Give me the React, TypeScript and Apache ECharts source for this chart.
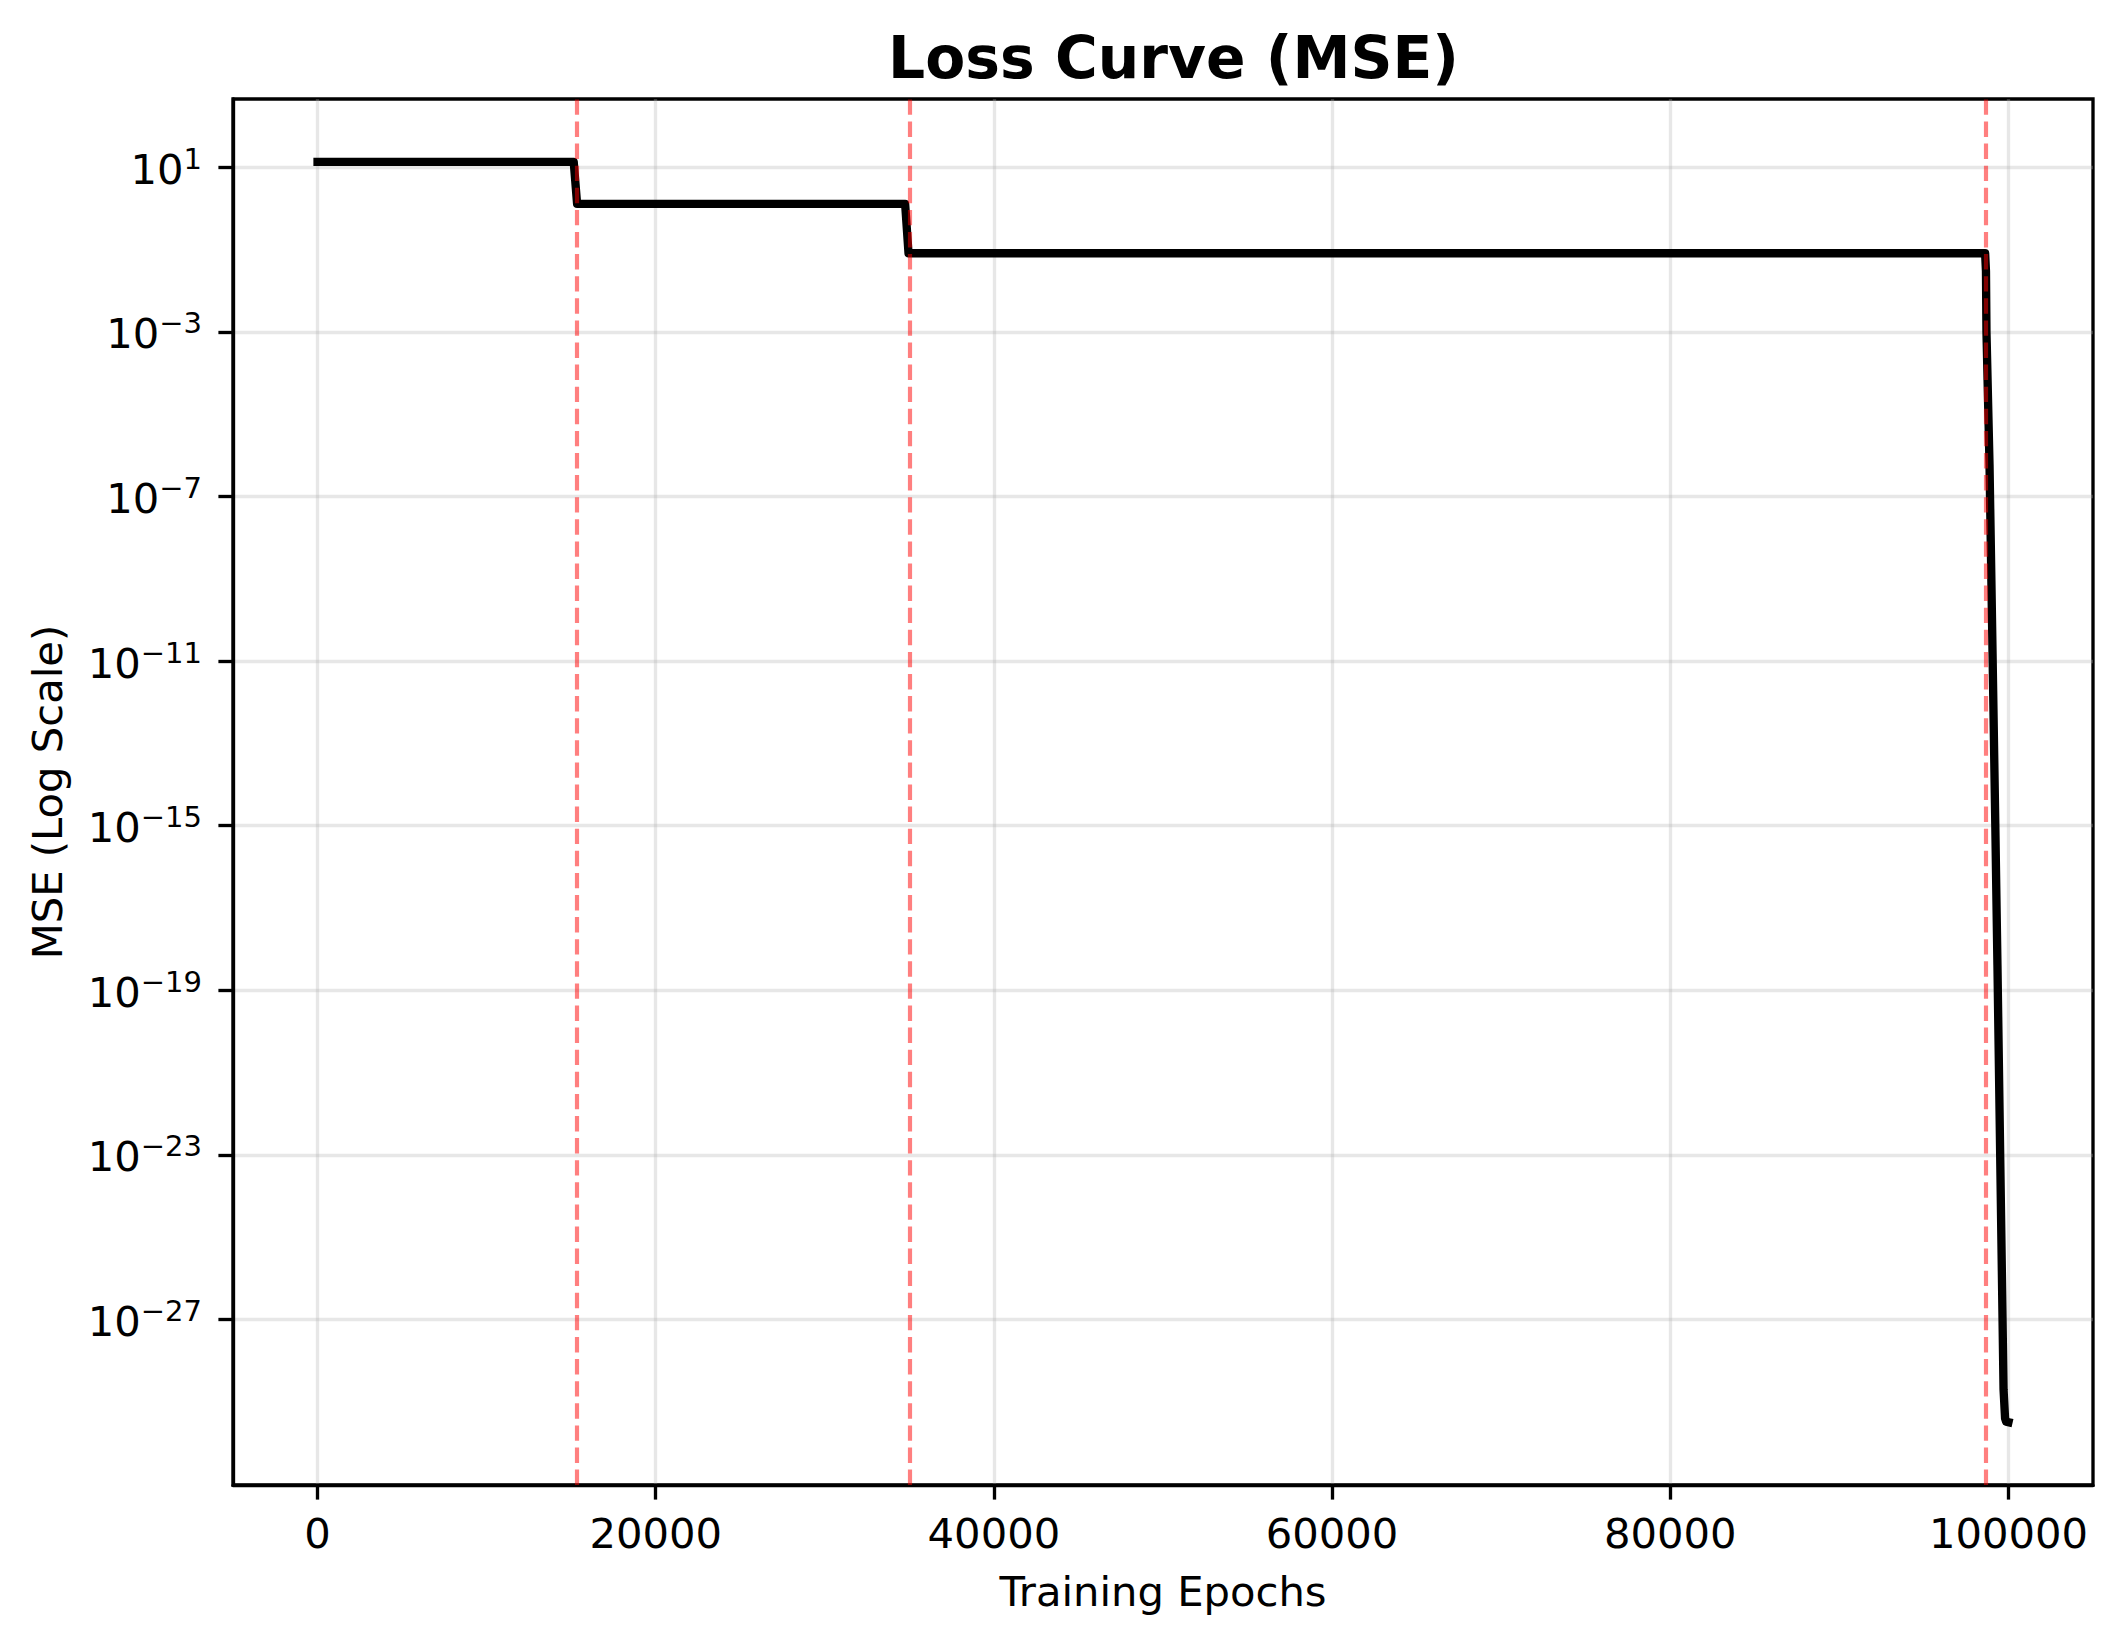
import React, { useEffect, useRef } from 'react';
import * as echarts from 'echarts';

// Training epochs and MSE values
const epochs = [0, 15150, 15350, 34750, 34950, 98620, 98670, 98700, 98880, 99220, 99350, 99710, 99800, 99860, 100000];
const mse = [13.5, 13.5, 1.29, 1.29, 0.0817, 0.0817, 0.03, 1e-3, 6e-7, 1.2e-15, 4e-19, 2e-29, 4e-30, 3.3e-30, 3.2e-30];

// Phase boundaries (red dashed lines)
const phaseBoundaries = [15350, 35000, 98680];

// Tick labels
const xTicks = [0, 20000, 40000, 60000, 80000, 100000];
const yTickExponents = [1, -3, -7, -11, -15, -19, -23, -27];

const FONT = 'DejaVu Sans';

export default function App() {
  const ref = useRef<HTMLDivElement>(null);
  useEffect(() => {
    const chart = echarts.init(ref.current!, null, { renderer: 'svg' });
    const data = epochs.map((e, i) => [e, Math.log10(mse[i])]);
    chart.setOption({
      animation: false,
      backgroundColor: '#ffffff',
      title: {
        text: 'Loss Curve (MSE)',
        left: 888,
        top: 29,
        padding: 0,
        textStyle: { fontFamily: FONT, fontWeight: 'bold', fontSize: 58.3, color: '#000' },
      },
      grid: {
        left: 233,
        right: 29,
        top: 99,
        bottom: 160,
        show: true,
        borderColor: '#000',
        borderWidth: 3.33,
        backgroundColor: 'transparent',
      },
      xAxis: {
        type: 'value',
        min: -5000,
        max: 105000,
        name: 'Training Epochs',
        nameLocation: 'middle',
        nameGap: 85,
        nameTextStyle: { fontFamily: FONT, fontSize: 41.7, color: '#000' },
        axisLine: { show: true, onZero: false, lineStyle: { color: '#000', width: 3.33 } },
        axisTick: { show: true, length: 14.6, lineStyle: { color: '#000', width: 3.33 }, customValues: xTicks },
        axisLabel: {
          margin: 27,
          fontFamily: FONT,
          fontSize: 41.7,
          color: '#000',
          customValues: xTicks,
          formatter: (v: number) => String(v),
        },
        splitLine: { show: true, lineStyle: { color: 'rgba(176,176,176,0.3)', width: 3.33 } },
      },
      yAxis: {
        type: 'value',
        min: -31.02,
        max: 2.66,
        name: 'MSE (Log Scale)',
        nameLocation: 'middle',
        nameGap: 165,
        nameTextStyle: { fontFamily: FONT, fontSize: 41.7, color: '#000' },
        axisLine: { show: true, onZero: false, lineStyle: { color: '#000', width: 3.33 } },
        axisTick: { show: true, length: 14.6, lineStyle: { color: '#000', width: 3.33 }, customValues: yTickExponents },
        axisLabel: {
          margin: 31,
          customValues: yTickExponents,
          formatter: (v: number) => {
            const e = Math.round(v);
            const s = e < 0 ? '\u2212' + String(-e) : String(e);
            return '{b|10}{s|' + s + '}';
          },
          rich: {
            b: { fontFamily: FONT, fontSize: 41.7, color: '#000', verticalAlign: 'bottom' },
            s: { fontFamily: FONT, fontSize: 29, color: '#000', verticalAlign: 'bottom', padding: [0, 0, 17, 0] },
          },
        },
        splitLine: { show: true, lineStyle: { color: 'rgba(176,176,176,0.3)', width: 3.33 } },
      },
      series: [
        {
          type: 'line',
          data,
          showSymbol: false,
          symbol: 'none',
          z: 2,
          lineStyle: { color: '#000', width: 8.33, cap: 'square', join: 'round' },
        },
        {
          type: 'line',
          data: [],
          z: 3,
          markLine: {
            silent: true,
            symbol: ['none', 'none'],
            label: { show: false },
            lineStyle: { color: 'rgba(255,0,0,0.5)', width: 4.17, type: [15.4, 6.7] },
            data: phaseBoundaries.map((x) => ({ xAxis: x })),
          },
        },
      ],
    });
    return () => chart.dispose();
  }, []);
  return (
    <div
      ref={ref}
      style={{ position: 'fixed', left: 0, top: 0, width: 2122, height: 1645, background: '#fff' }}
    />
  );
}
